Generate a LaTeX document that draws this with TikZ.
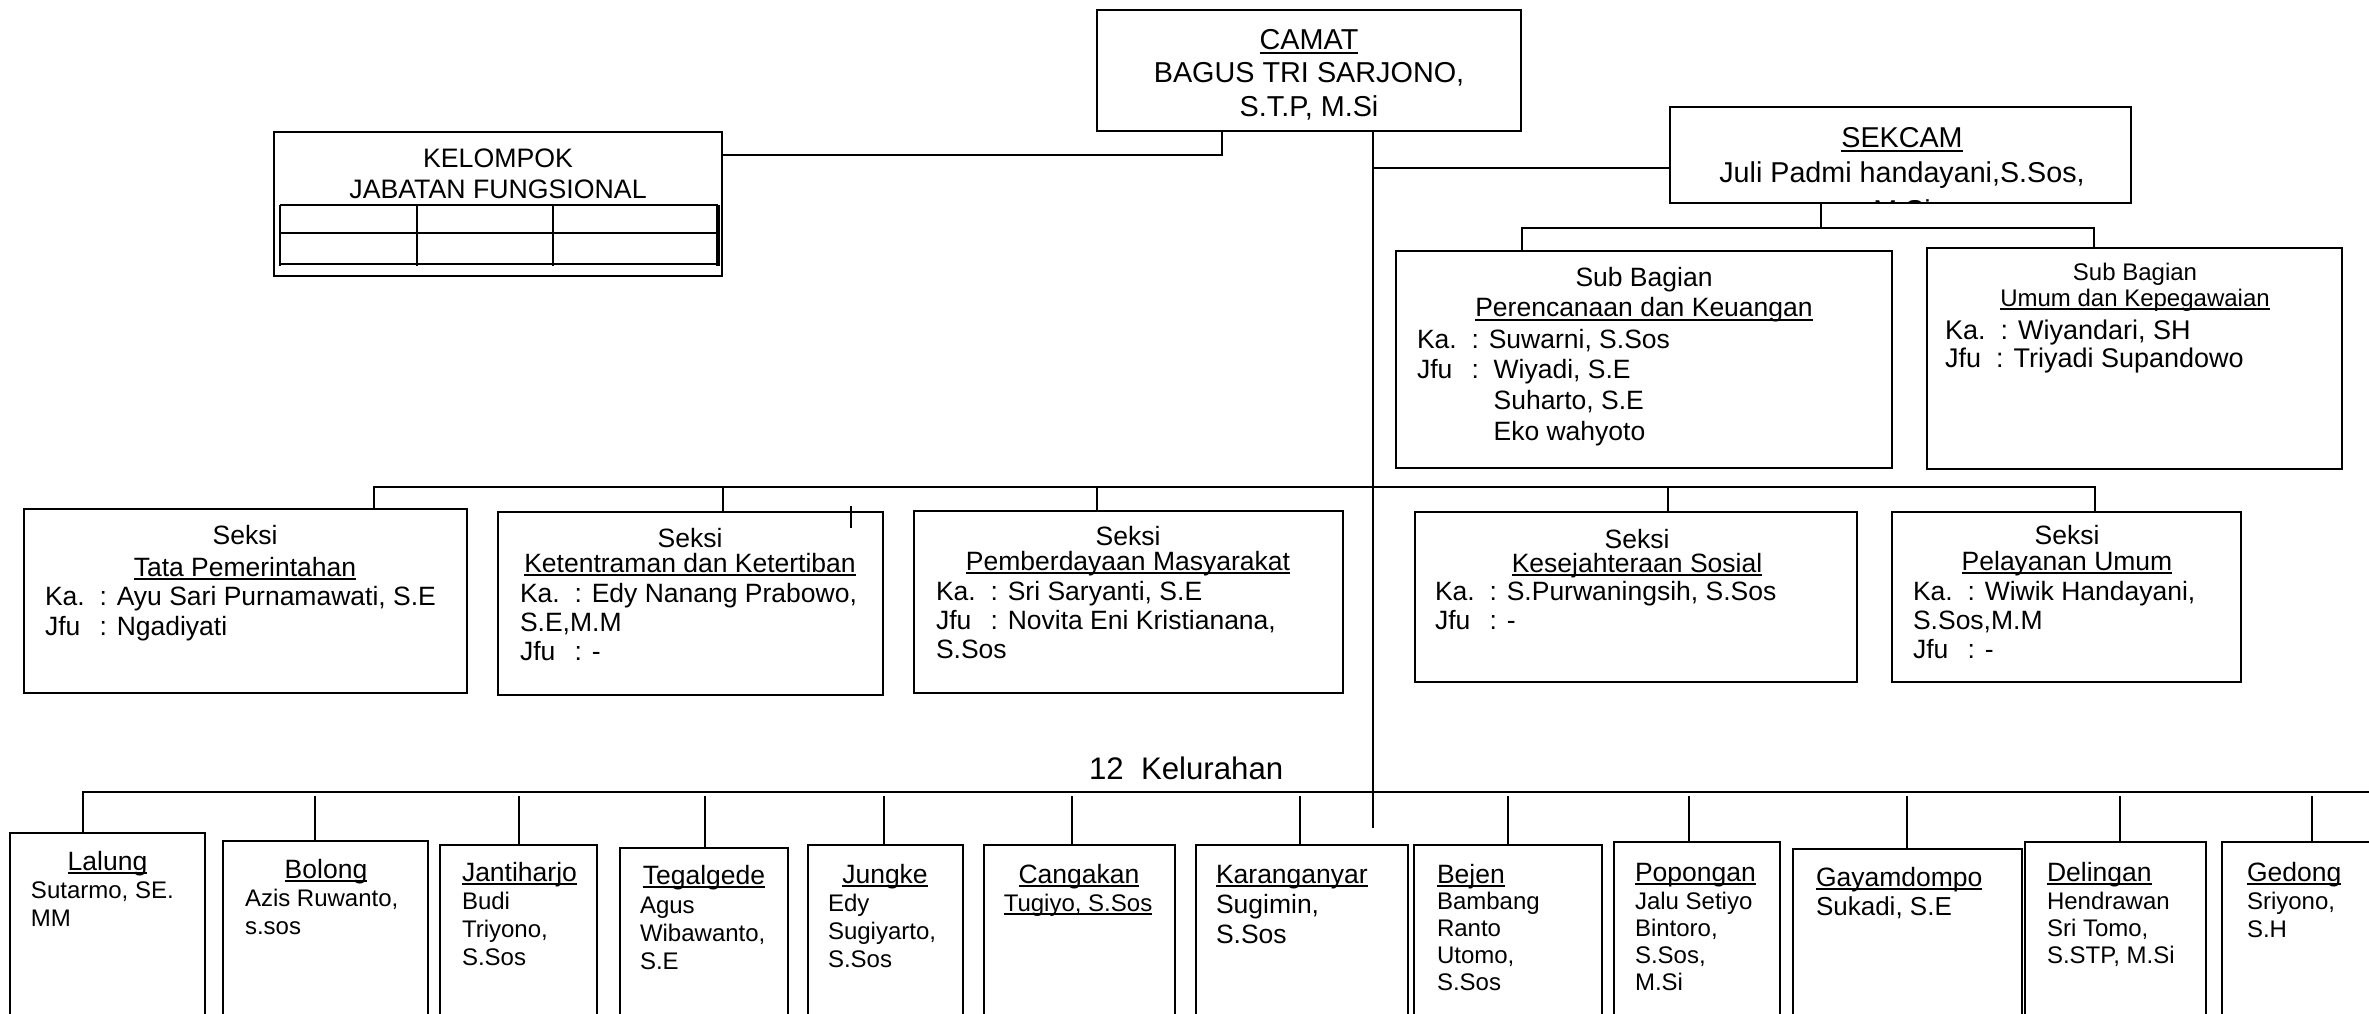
\documentclass[tikz,border=0pt]{standalone}
\usepackage{fontspec}
\setmainfont{Liberation Sans}
\newcommand\fs[2]{\fontsize{#1}{#2}\selectfont}
\newcommand\uln[1]{\leavevmode\setbox0=\hbox{#1}\rlap{\rule[-0.16em]{\wd0}{0.07em}}\box0}
\newcommand\Lt[1]{\vtop{\lineskiplimit=-\maxdimen\lineskip=0pt\halign{##\hfil\cr#1\crcr}}}
\newcommand\Ct[1]{\vtop{\lineskiplimit=-\maxdimen\lineskip=0pt\halign{\hfil##\hfil\cr#1\crcr}}}
\newcommand\kl[1]{\makebox[2.06em][l]{#1}}
\newcommand\bx[5]{\node[orgbox, minimum width={(#4-#2)*0.5pt}, minimum height={(#5-#3)*0.5pt}] (#1) at (#2,#3) {};}
\begin{document}
\begin{tikzpicture}[x=0.5pt, y=-0.5pt, line width=1pt,
  orgbox/.style={draw, line width=1pt, inner sep=0pt, outer sep=0pt, anchor=north west},
  tx/.style={inner sep=0pt, outer sep=0pt},
  tc/.style={tx, anchor=base},
  tl/.style={tx, anchor=base west},
  kt/.style={font=\fs{13.25}{14}},
  kb/.style={font=\fs{12}{14}}]
\fill[white] (0,0) rectangle (2369,1013);
\useasboundingbox (0,0) rectangle (2369,1013);

% ---------- top ----------
\bx{camat}{1097}{10}{1521}{131}
\node[tc, font=\fs{14.4}{16.75}] (camatT) at (1309,49) {\Ct{\uln{CAMAT}\cr BAGUS TRI SARJONO,\cr S.T.P, M.Si}};

\bx{kelompok}{274}{132}{722}{276}
\node[tc, font=\fs{13.35}{15.5}] (kelT) at (498,167) {\Ct{KELOMPOK\cr JABATAN FUNGSIONAL}};
\draw (280,205) -- (718,205) (280,233) -- (718,233) (280,264) -- (718,264);
\draw (280,205) -- (280,266) (417,205) -- (417,266) (553,205) -- (553,266);
\draw[line width=1.6pt] (718,205) -- (718,266);

\bx{sekcam}{1670}{107}{2131}{203}
\node[tc, font=\fs{14.35}{17.5}] (sekT) at (1902,147) {\Ct{\uln{SEKCAM}\cr Juli Padmi handayani,S.Sos,}};
\begin{scope}
\clip (1672,109) rectangle (2129,201);
\node[tc, font=\fs{14.35}{17.5}] (sekM) at (1902,220) {M.Si};
\end{scope}

% ---------- sub bagian ----------
\bx{perenc}{1396}{251}{1892}{468}
\node[tc, font=\fs{13.25}{15.2}] (perT) at (1644,286) {\Ct{Sub Bagian\cr \uln{Perencanaan dan Keuangan}}};
\node[tl, font=\fs{13.25}{15.4}] (perB) at (1417,348) {\Lt{\kl{Ka.}: Suwarni, S.Sos\cr \kl{Jfu}:\ \ Wiyadi, S.E\cr \hspace*{2.89em}Suharto, S.E\cr \hspace*{2.89em}Eko wahyoto}};

\bx{umum}{1927}{248}{2342}{469}
\node[tc, font=\fs{12}{13}] (umT) at (2135,280) {\Ct{Sub Bagian\cr \uln{Umum dan Kepegawaian}}};
\node[tl, font=\fs{13.5}{14}] (umB) at (1945,339) {\Lt{Ka.\ \ : Wiyandari, SH\cr Jfu\ \ : Triyadi Supandowo}};

% ---------- seksi ----------
\bx{tata}{24}{509}{467}{693}
\node[tc, font=\fs{13.25}{16}] (tataT) at (245,544) {\Ct{Seksi\cr \uln{Tata Pemerintahan}}};
\node[tl, font=\fs{13.25}{15}] (tataB) at (45,605) {\Lt{\kl{Ka.}: Ayu Sari Purnamawati, S.E\cr \kl{Jfu}: Ngadiyati}};

\bx{keten}{498}{512}{883}{695}
\node[tc, font=\fs{13.25}{12.5}] (ketT) at (690,547) {\Ct{Seksi\cr \uln{Ketentraman dan Ketertiban}}};
\node[tl, font=\fs{13.25}{14.6}] (ketB) at (520,602) {\Lt{\kl{Ka.}: Edy Nanang Prabowo,\cr S.E,M.M\cr \kl{Jfu}: -}};

\bx{pember}{914}{511}{1343}{693}
\node[tc, font=\fs{13.25}{12.5}] (pemT) at (1128,545) {\Ct{Seksi\cr \uln{Pemberdayaan Masyarakat}}};
\node[tl, font=\fs{13.25}{14.6}] (pemB) at (936,600) {\Lt{\kl{Ka.}: Sri Saryanti, S.E\cr \kl{Jfu}: Novita Eni Kristianana,\cr S.Sos}};

\bx{kesej}{1415}{512}{1857}{682}
\node[tc, font=\fs{13.25}{12}] (kesT) at (1637,548) {\Ct{Seksi\cr \uln{Kesejahteraan Sosial}}};
\node[tl, font=\fs{13.25}{14.5}] (kesB) at (1435,600) {\Lt{\kl{Ka.}: S.Purwaningsih, S.Sos\cr \kl{Jfu}: -}};

\bx{pelay}{1892}{512}{2241}{682}
\node[tc, font=\fs{13.25}{13}] (pelT) at (2067,544) {\Ct{Seksi\cr \uln{Pelayanan Umum}}};
\node[tl, font=\fs{13.25}{14.5}] (pelB) at (1913,600) {\Lt{\kl{Ka.}: Wiwik Handayani,\cr S.Sos,M.M\cr \kl{Jfu}: -}};

% ---------- kelurahan ----------
\node[tl, font=\fs{15.6}{16}] (kelLbl) at (1089,779) {12\ \ Kelurahan};

\bx{lalung}{10}{833}{205}{1030}
\node[tc, kt] (lalT) at (107.5,870) {\uln{Lalung}};
\node[tl, kb] (lalB) at (31,898) {\Lt{Sutarmo, SE.\cr MM}};

\bx{bolong}{223}{841}{428}{1030}
\node[tc, kt] (bolT) at (326,878) {\uln{Bolong}};
\node[tl, kb] (bolB) at (245,906) {\Lt{Azis Ruwanto,\cr s.sos}};

\bx{jantiharjo}{440}{845}{597}{1030}
\node[tl, kt] (janT) at (462,881) {\uln{Jantiharjo}};
\node[tl, kb] (janB) at (462,909) {\Lt{Budi\cr Triyono,\cr S.Sos}};

\bx{tegalgede}{620}{848}{788}{1030}
\node[tc, kt] (tegT) at (704,884) {\uln{Tegalgede}};
\node[tl, kb] (tegB) at (640,913) {\Lt{Agus\cr Wibawanto,\cr S.E}};

\bx{jungke}{808}{845}{963}{1030}
\node[tc, kt] (junT) at (885,883) {\uln{Jungke}};
\node[tl, kb] (junB) at (828,911) {\Lt{Edy\cr Sugiyarto,\cr S.Sos}};

\bx{cangakan}{984}{845}{1175}{1030}
\node[tc, kt] (canT) at (1079,883) {\uln{Cangakan}};
\node[tc, kb] (canB) at (1078,911) {\uln{Tugiyo, S.Sos}};

\bx{karanganyar}{1196}{845}{1408}{1030}
\node[tl, kt] (karT) at (1216,883) {\uln{Karanganyar}};
\node[tl, font=\fs{13.25}{15}] (karB) at (1216,913) {\Lt{Sugimin,\cr S.Sos}};

\bx{bejen}{1414}{845}{1602}{1030}
\node[tl, kt] (bejT) at (1437,883) {\uln{Bejen}};
\node[tl, font=\fs{12}{13.65}] (bejB) at (1437,909) {\Lt{Bambang\cr Ranto\cr Utomo,\cr S.Sos}};

\bx{popongan}{1614}{842}{1780}{1030}
\node[tl, kt] (popT) at (1635,881) {\uln{Popongan}};
\node[tl, font=\fs{12}{13.6}] (popB) at (1635,909) {\Lt{Jalu Setiyo\cr Bintoro,\cr S.Sos,\cr M.Si}};

\bx{gayamdompo}{1793}{849}{2022}{1030}
\node[tl, kt] (gayT) at (1816,886) {\uln{Gayamdompo}};
\node[tl, font=\fs{13}{14.5}] (gayB) at (1816,915) {Sukadi, S.E};

\bx{delingan}{2025}{842}{2206}{1030}
\node[tl, kt] (delT) at (2047,881) {\uln{Delingan}};
\node[tl, font=\fs{12}{13.7}] (delB) at (2047,909) {\Lt{Hendrawan\cr Sri Tomo,\cr S.STP, M.Si}};

\bx{gedong}{2222}{842}{2400}{1030}
\node[tl, kt] (gedT) at (2247,881) {\uln{Gedong}};
\node[tl, kb] (gedB) at (2247,909) {\Lt{Sriyono,\cr S.H}};

% ---------- connectors ----------
\coordinate (cx) at (1373,131);
\coordinate (cbot) at (1373,828);
\draw (camat.south -| cx) -- (cbot);

\coordinate (j1) at (1222,155);
\draw (camat.south -| j1) -- (j1) -- (j1 -| kelompok.east);

\coordinate (s1) at (1373,168);
\draw (s1) -- (s1 -| sekcam.west);

\coordinate (sb) at (1821,228);
\coordinate (pl) at (1522,228);
\coordinate (pr) at (2094,228);
\draw (sekcam.south -| sb) -- (sb);
\draw (perenc.north -| pl) -- (pl) -- (pr) -- (umum.north -| pr);

\coordinate (bl) at (374,487);
\coordinate (br) at (2095,487);
\draw (tata.north -| bl) -- (bl) -- (br) -- (pelay.north -| br);
\foreach \n/\x in {keten/723, pember/1097, kesej/1668}{
  \coordinate (d\n) at (\x,487);
  \draw (d\n) -- (\n.north -| d\n);
}
\draw (851,506) -- (851,528);

\coordinate (kl) at (83,792);
\coordinate (kr) at (2380,792);
\draw (lalung.north -| kl) -- (kl) -- (kr);
\foreach \n/\x in {bolong/315, jantiharjo/519, tegalgede/705, jungke/884, cangakan/1072, karanganyar/1300, bejen/1508, popongan/1689, gayamdompo/1907, delingan/2120, gedong/2312}{
  \coordinate (d\n) at (\x,796);
  \draw (d\n) -- (\n.north -| d\n);
}
\end{tikzpicture}
\end{document}
